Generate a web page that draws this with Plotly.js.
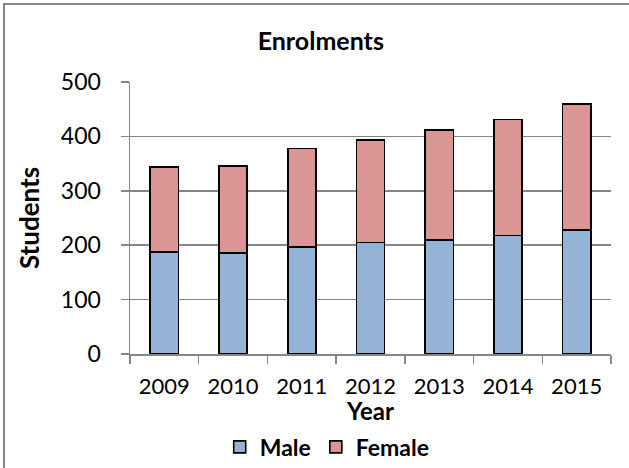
<!DOCTYPE html>
<html>
<head>
<meta charset="utf-8">
<script src="https://cdn.plot.ly/plotly-3.0.1.min.js"></script>
<style>
html,body{margin:0;padding:0;background:#fff;}
#chart{width:629px;height:468px;}
</style>
</head>
<body>
<div id="chart"></div>
<script>
const years = ["2009","2010","2011","2012","2013","2014","2015"];
const male = [188, 186, 197, 205, 210, 218, 228];
const female = [156, 160, 181, 188, 202, 213, 232];
const yTicks = [0, 100, 200, 300, 400, 500];

const FONT = "Lato, 'Open Sans', sans-serif";
const gray = "#868686";

const traces = [
  {type: "bar", name: "<b>Male</b>", x: years, y: male,
   marker: {color: "#95b3d7", line: {color: "#000", width: 1.6}}},
  {type: "bar", name: "<b>Female</b>", x: years, y: female,
   marker: {color: "#d99694", line: {color: "#000", width: 1.6}}}
];

const layout = {
  width: 629, height: 468,
  margin: {l: 130, r: 18, t: 82, b: 114, autoexpand: false},
  barmode: "stack",
  bargap: 0.59,
  paper_bgcolor: "#fff", plot_bgcolor: "#fff",
  font: {family: FONT, color: "#000", size: 23},
  title: {text: "<b>Enrolments</b>", font: {family: FONT, size: 25, color: "#000"},
          x: 0.51, xanchor: "center", y: 0.912, yanchor: "middle"},
  xaxis: {
    type: "category", tickson: "boundaries",
    showline: true, linecolor: gray, linewidth: 1.5,
    ticks: "outside", ticklen: 8, tickcolor: gray, tickwidth: 1.5,
    tickfont: {family: FONT, size: 22},
    ticklabelstandoff: 12,
    showgrid: false,
    title: {text: "<b>Year</b>", font: {family: FONT, size: 24}, standoff: 5},
    fixedrange: true
  },
  yaxis: {
    range: [0, 500], tickvals: yTicks, ticktext: yTicks.map(String),
    showline: true, linecolor: gray, linewidth: 1.5,
    ticks: "outside", ticklen: 8, tickcolor: gray, tickwidth: 1.5,
    tickfont: {family: FONT, size: 23},
    ticklabelstandoff: 15,
    showgrid: true, gridcolor: gray, gridwidth: 1.5,
    zeroline: false,
    title: {text: "<b>Students</b>", font: {family: FONT, size: 26}, standoff: 14},
    fixedrange: true
  },
  showlegend: true,
  legend: {orientation: "h", traceorder: "normal", x: 0.41, xanchor: "center",
           yref: "container", y: 0.045, yanchor: "middle",
           font: {family: FONT, size: 23},
           bgcolor: "rgba(0,0,0,0)"},
  shapes: [{type: "rect", xref: "paper", yref: "paper",
            x0: -126/481, x1: 1 + 60/481, y0: -150/272, y1: 1 + 78/272,
            line: {color: gray, width: 2}, fillcolor: "rgba(0,0,0,0)", layer: "below"}]
};

Plotly.newPlot("chart", traces, layout, {staticPlot: true, displayModeBar: false});
</script>
</body>
</html>
